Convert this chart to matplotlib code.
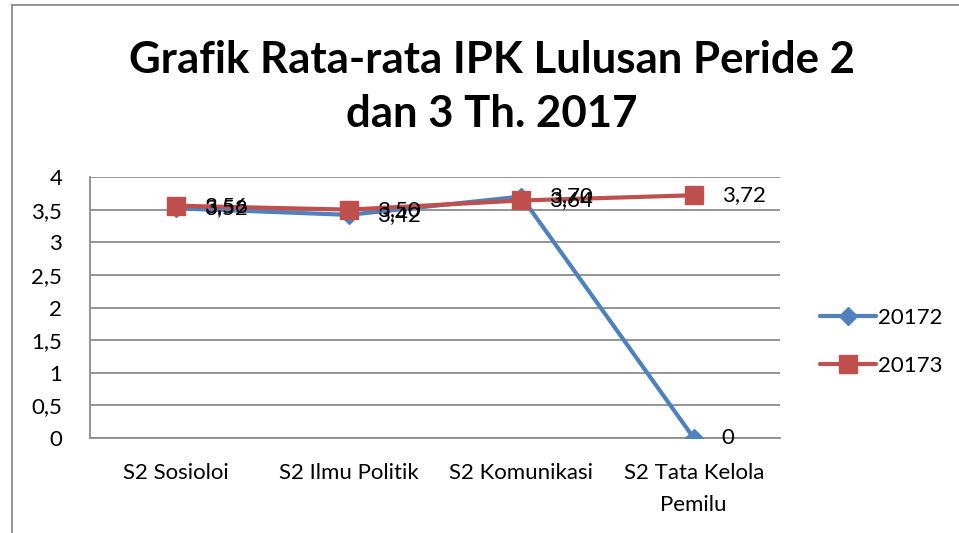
import matplotlib; matplotlib.use("Agg")
import matplotlib.pyplot as plt
from matplotlib.lines import Line2D

plt.rcParams["font.family"] = ["Lato", "DejaVu Sans"]

categories = ["S2 Sosioloi", "S2 Ilmu Politik", "S2 Komunikasi", "S2 Tata Kelola\nPemilu"]
s20172 = [3.52, 3.42, 3.70, 0]
s20173 = [3.56, 3.50, 3.64, 3.72]
series_names = ["20172", "20173"]
yticks = [0, 0.5, 1, 1.5, 2, 2.5, 3, 3.5, 4]

BLUE, RED, GRID = "#4F81BD", "#C0504D", "#8C8C8C"
FS = 16

fig = plt.figure(figsize=(9.59, 5.33), dpi=100)
ax = fig.add_axes([90/959, 1-438/533, 690/959, 261/533])

x = list(range(len(categories)))
ax.plot(x, s20172, color=BLUE, lw=3, marker="D", ms=9, mec=BLUE, mfc=BLUE,
        label=series_names[0], solid_capstyle="round", zorder=3)
ax.plot(x, s20173, color=RED, lw=3, marker="s", ms=13, mec=RED, mfc=RED,
        label=series_names[1], solid_capstyle="round", zorder=4)

def fmt(v):
    return f"{v:.2f}".replace(".", ",") if v else "0"

# data labels (they overlap in the original too)
for vals in (s20172, s20173):
    for xi, v in zip(x, vals):
        ax.annotate(fmt(v), (xi, v), xytext=(20, 0), textcoords="offset points",
                    ha="left", va="center", fontsize=FS, zorder=5)

ax.set_xlim(-0.5, 3.5)
ax.set_ylim(0, 4)
ax.set_yticks(yticks)
ax.set_yticklabels([(f"{t:g}").replace(".", ",") for t in yticks])
ax.set_xticks(x)
ax.set_xticklabels(categories, linespacing=1.75)
ax.tick_params(axis="both", length=0, labelsize=FS)
ax.tick_params(axis="x", pad=18)
ax.tick_params(axis="y", pad=20)
ax.yaxis.grid(True, color=GRID, lw=1.3)
ax.set_axisbelow(True)
for s in ("top", "right"):
    ax.spines[s].set_visible(False)
for s in ("left", "bottom"):
    ax.spines[s].set_color(GRID)
    ax.spines[s].set_linewidth(1.3)

fig.text(0.513, 1-87/533, "Grafik Rata-rata IPK Lulusan Peride 2\ndan 3 Th. 2017",
         ha="center", va="center", fontsize=31.5, fontweight="bold", linespacing=1.4)

ax.legend(loc="center left", bbox_to_anchor=(730/690, 0.368), frameon=False,
          fontsize=FS, handlelength=2.5, handletextpad=0.1, labelspacing=1.25,
          borderaxespad=0, borderpad=0)

# outer frame lines (left and top)
fig.add_artist(Line2D([12/959, 12/959], [0, 1-5/533], color=GRID, lw=1.3))
fig.add_artist(Line2D([12/959, 1], [1-5/533, 1-5/533], color=GRID, lw=1.3))

fig.savefig("out.png", dpi=100)
